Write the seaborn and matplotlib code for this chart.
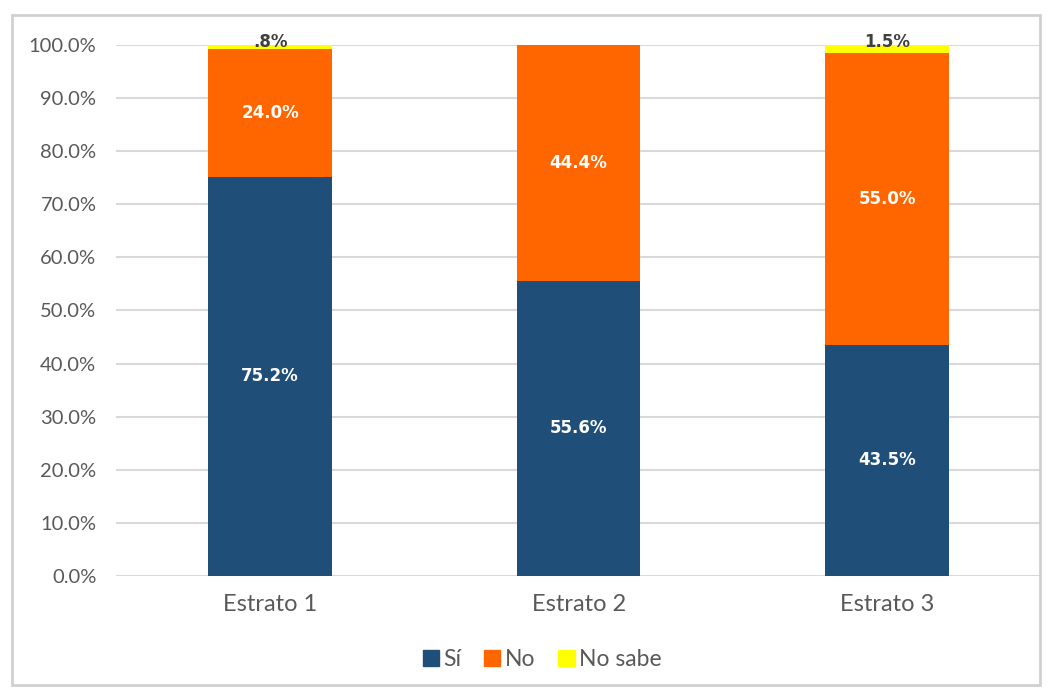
"""
Stacked percentage bars of answers by stratum (Sí / No / No sabe).
"""
import matplotlib.pyplot as plt
import matplotlib.patches as mpatches
import pandas as pd
import seaborn as sns

# Data
estratos = ['Estrato 1', 'Estrato 2', 'Estrato 3']
si = [75.2, 55.6, 43.5]
no = [24.0, 44.4, 55.0]
no_sabe = [0.8, 0.0, 1.5]
series_names = ['Sí', 'No', 'No sabe']
y_ticks = [0, 10, 20, 30, 40, 50, 60, 70, 80, 90, 100]

colors = ['#1F4E79', '#FF6600', '#FFFF00']
text_grey = '#595959'
bold_font = ['DejaVu Sans']


def pct(v):
    """Excel-like label: drop the leading zero for values below 1."""
    s = f'{v:.1f}%'
    if v < 1:
        s = s.lstrip('0')
    return s


def main():
    sns.set_style('white')
    plt.rcParams['font.family'] = ['Lato', 'DejaVu Sans']

    df = pd.DataFrame({'estrato': estratos, 'si': si, 'no': no,
                       'no_sabe': no_sabe})
    df['cum_no'] = df['si'] + df['no']
    df['cum_all'] = df['cum_no'] + df['no_sabe']

    fig = plt.figure(figsize=(10.53, 6.89), dpi=100)
    ax = fig.add_axes([0.110, 0.164, 0.879, 0.771])

    # outer chart frame
    frame = mpatches.Rectangle((0.011, 0.006), 0.977, 0.972,
                               transform=fig.transFigure, fill=False,
                               edgecolor='#D0D0D0', linewidth=2.0,
                               zorder=0)
    fig.patches.append(frame)

    # stacked bars drawn as cumulative totals, back to front
    for col, c in [('cum_all', colors[2]), ('cum_no', colors[1]),
                   ('si', colors[0])]:
        sns.barplot(data=df, x='estrato', y=col, color=c, width=0.4,
                    saturation=1, ax=ax, zorder=3, linewidth=0)

    # labels inside segments
    for i in range(len(estratos)):
        ax.text(i, si[i] / 2, pct(si[i]), ha='center', va='center',
                color='white', fontsize=12, fontweight='bold',
                family=bold_font, zorder=5)
        ax.text(i, si[i] + no[i] / 2, pct(no[i]), ha='center',
                va='center', color='white', fontsize=12,
                fontweight='bold', family=bold_font, zorder=5)
        if no_sabe[i] > 0:
            top = si[i] + no[i] + no_sabe[i]
            ax.text(i, top + 0.5, pct(no_sabe[i]), ha='center',
                    va='center', color='#404040', fontsize=12,
                    fontweight='bold', family=bold_font, zorder=5)

    ax.set_ylim(0, 100)
    ax.set_xlim(-0.5, 2.5)
    ax.set_yticks(y_ticks)
    ax.set_yticklabels([f'{t:.1f}%' for t in y_ticks])
    ax.set_xlabel('')
    ax.set_ylabel('')
    ax.yaxis.grid(True, color='#D9D9D9', linewidth=1.5, zorder=0)
    ax.set_axisbelow(True)
    for s in ax.spines.values():
        s.set_visible(False)
    ax.tick_params(axis='y', length=0, pad=14, labelsize=14.5,
                   labelcolor=text_grey)
    ax.tick_params(axis='x', length=0, pad=13, labelsize=17,
                   labelcolor=text_grey)

    # legend
    handles = [mpatches.Patch(color=c, label=n)
               for c, n in zip(colors, series_names)]
    fig.legend(handles=handles, loc='center', ncol=3,
               bbox_to_anchor=(0.515, 0.043), frameon=False, fontsize=16.5,
               labelcolor=text_grey, handlelength=0.7, handleheight=0.7,
               handletextpad=0.2, columnspacing=1.0)

    fig.savefig('out.png', dpi=100)


if __name__ == '__main__':
    main()
